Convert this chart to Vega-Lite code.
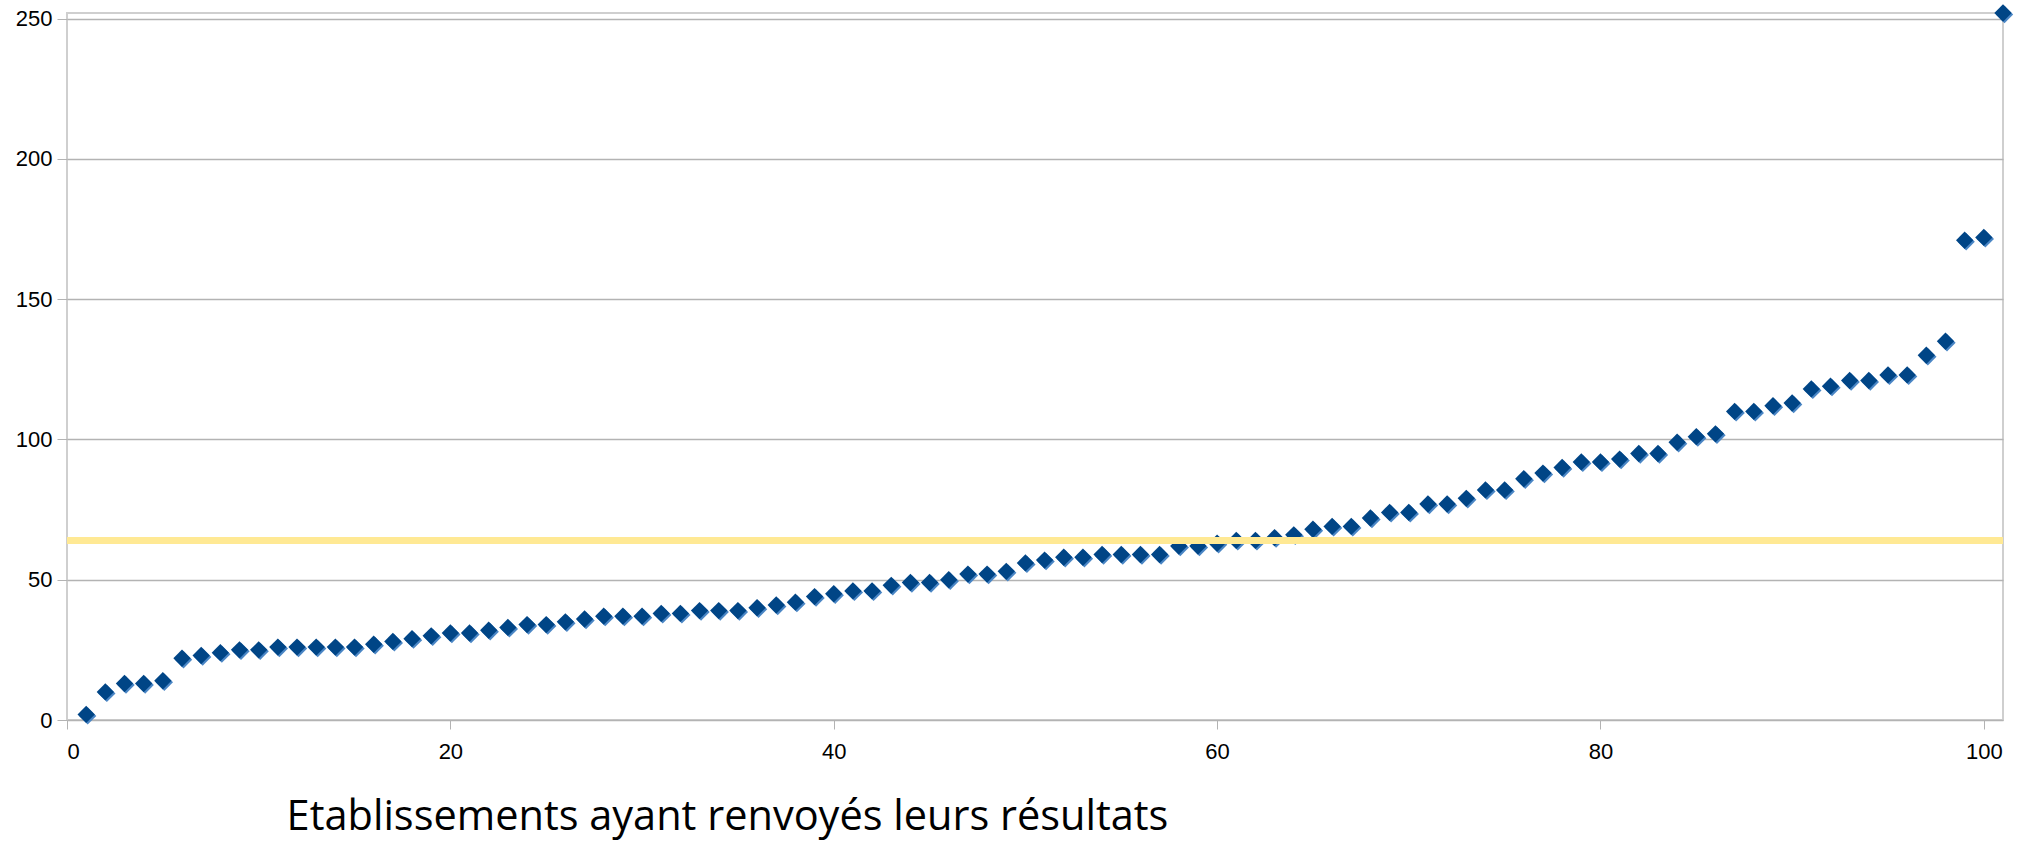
{
  "$schema": "https://vega.github.io/schema/vega-lite/v6.json",
  "width": 1936,
  "height": 707,
  "autosize": {"type": "none"},
  "padding": {"left": 67, "top": 13, "right": 24, "bottom": 122},
  "background": "white",
  "config": {
    "view": {"stroke": "#cfcfcf", "strokeWidth": 2},
    "axis": {
      "labelFont": "Liberation Sans",
      "labelFontSize": 22,
      "labelColor": "#000000",
      "domain": false,
      "tickColor": "#b3b3b3",
      "gridColor": "#b3b3b3",
      "gridWidth": 1.3
    }
  },
  "datasets": {
    "etab": [
      {"rang": 1, "valeur": 2}, {"rang": 2, "valeur": 10}, {"rang": 3, "valeur": 13}, {"rang": 4, "valeur": 13}, {"rang": 5, "valeur": 14},
      {"rang": 6, "valeur": 22}, {"rang": 7, "valeur": 23}, {"rang": 8, "valeur": 24}, {"rang": 9, "valeur": 25}, {"rang": 10, "valeur": 25},
      {"rang": 11, "valeur": 26}, {"rang": 12, "valeur": 26}, {"rang": 13, "valeur": 26}, {"rang": 14, "valeur": 26}, {"rang": 15, "valeur": 26},
      {"rang": 16, "valeur": 27}, {"rang": 17, "valeur": 28}, {"rang": 18, "valeur": 29}, {"rang": 19, "valeur": 30}, {"rang": 20, "valeur": 31},
      {"rang": 21, "valeur": 31}, {"rang": 22, "valeur": 32}, {"rang": 23, "valeur": 33}, {"rang": 24, "valeur": 34}, {"rang": 25, "valeur": 34},
      {"rang": 26, "valeur": 35}, {"rang": 27, "valeur": 36}, {"rang": 28, "valeur": 37}, {"rang": 29, "valeur": 37}, {"rang": 30, "valeur": 37},
      {"rang": 31, "valeur": 38}, {"rang": 32, "valeur": 38}, {"rang": 33, "valeur": 39}, {"rang": 34, "valeur": 39}, {"rang": 35, "valeur": 39},
      {"rang": 36, "valeur": 40}, {"rang": 37, "valeur": 41}, {"rang": 38, "valeur": 42}, {"rang": 39, "valeur": 44}, {"rang": 40, "valeur": 45},
      {"rang": 41, "valeur": 46}, {"rang": 42, "valeur": 46}, {"rang": 43, "valeur": 48}, {"rang": 44, "valeur": 49}, {"rang": 45, "valeur": 49},
      {"rang": 46, "valeur": 50}, {"rang": 47, "valeur": 52}, {"rang": 48, "valeur": 52}, {"rang": 49, "valeur": 53}, {"rang": 50, "valeur": 56},
      {"rang": 51, "valeur": 57}, {"rang": 52, "valeur": 58}, {"rang": 53, "valeur": 58}, {"rang": 54, "valeur": 59}, {"rang": 55, "valeur": 59},
      {"rang": 56, "valeur": 59}, {"rang": 57, "valeur": 59}, {"rang": 58, "valeur": 62}, {"rang": 59, "valeur": 62}, {"rang": 60, "valeur": 63},
      {"rang": 61, "valeur": 64}, {"rang": 62, "valeur": 64}, {"rang": 63, "valeur": 65}, {"rang": 64, "valeur": 66}, {"rang": 65, "valeur": 68},
      {"rang": 66, "valeur": 69}, {"rang": 67, "valeur": 69}, {"rang": 68, "valeur": 72}, {"rang": 69, "valeur": 74}, {"rang": 70, "valeur": 74},
      {"rang": 71, "valeur": 77}, {"rang": 72, "valeur": 77}, {"rang": 73, "valeur": 79}, {"rang": 74, "valeur": 82}, {"rang": 75, "valeur": 82},
      {"rang": 76, "valeur": 86}, {"rang": 77, "valeur": 88}, {"rang": 78, "valeur": 90}, {"rang": 79, "valeur": 92}, {"rang": 80, "valeur": 92},
      {"rang": 81, "valeur": 93}, {"rang": 82, "valeur": 95}, {"rang": 83, "valeur": 95}, {"rang": 84, "valeur": 99}, {"rang": 85, "valeur": 101},
      {"rang": 86, "valeur": 102}, {"rang": 87, "valeur": 110}, {"rang": 88, "valeur": 110}, {"rang": 89, "valeur": 112}, {"rang": 90, "valeur": 113},
      {"rang": 91, "valeur": 118}, {"rang": 92, "valeur": 119}, {"rang": 93, "valeur": 121}, {"rang": 94, "valeur": 121}, {"rang": 95, "valeur": 123},
      {"rang": 96, "valeur": 123}, {"rang": 97, "valeur": 130}, {"rang": 98, "valeur": 135}, {"rang": 99, "valeur": 171}, {"rang": 100, "valeur": 172},
      {"rang": 101, "valeur": 252}
    ],
    "seuil": [{"niveau": 64}]
  },
  "layer": [
    {
      "data": {"name": "etab"},
      "mark": {"type": "point", "shape": "diamond", "filled": true, "size": 300, "color": "#4a86c5", "opacity": 1, "xOffset": 1.5, "yOffset": 1.5},
      "encoding": {
        "x": {
          "field": "rang", "type": "quantitative",
          "scale": {"domain": [0, 101], "nice": false, "zero": true},
          "axis": {
            "values": [0, 20, 40, 60, 80, 100],
            "grid": false,
            "tickSize": 9,
            "labelPadding": 12,
            "title": "Etablissements ayant renvoyés leurs résultats",
            "titleFont": "Open Sans",
            "titleFontSize": 41.5,
            "titleFontWeight": "normal",
            "titleColor": "#000000",
            "titleAnchor": "start",
            "titleAlign": "center",
            "titleBaseline": "alphabetic",
            "titleX": 660,
            "titleY": 109
          }
        },
        "y": {
          "field": "valeur", "type": "quantitative",
          "scale": {"domain": [0, 252], "nice": false},
          "axis": {
            "values": [0, 50, 100, 150, 200, 250],
            "grid": true,
            "tickSize": 10,
            "labelPadding": 5,
            "title": null
          }
        }
      }
    },
    {
      "data": {"name": "etab"},
      "mark": {"type": "point", "shape": "diamond", "filled": true, "size": 300, "color": "#004586", "opacity": 1},
      "encoding": {
        "x": {"field": "rang", "type": "quantitative"},
        "y": {"field": "valeur", "type": "quantitative"}
      }
    },
    {
      "data": {"name": "seuil"},
      "mark": {"type": "rule", "color": "#ffe994", "strokeWidth": 7},
      "encoding": {
        "y": {"field": "niveau", "type": "quantitative"}
      }
    }
  ]
}
